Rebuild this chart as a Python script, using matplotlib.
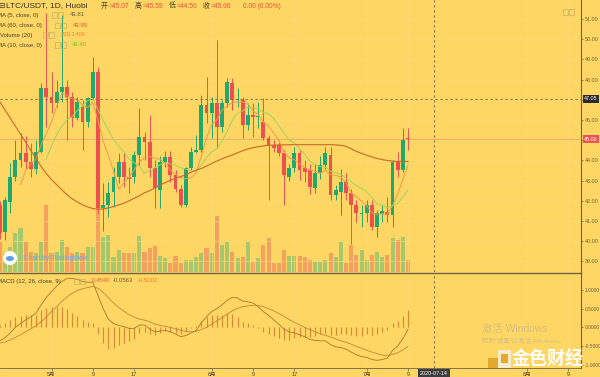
import numpy as np
import pandas as pd
import matplotlib
matplotlib.use("Agg")
import matplotlib.pyplot as plt
import matplotlib.transforms as mtransforms
from matplotlib.patches import Rectangle, Ellipse

plt.rcParams['font.family'] = ['Liberation Sans', 'Noto Sans CJK SC', 'DejaVu Sans']

# day index: 0 = 2020-05-01
days = list(range(-10, 70))

opens = [41.8, 40.45, 41.96, 43.19, 44.0, 44.38, 43.94, 43.6, 44.43, 47.57,
         47.15, 46.83, 47.4, 47.62, 47.15, 46.08, 46.66, 45.92, 47.07, 48.39,
         41.64, 41.79, 42.44, 43.18, 43.92, 43.18, 43.18, 44.27, 45.17, 44.93,
         43.61, 42.53, 43.94, 44.18, 43.27, 42.61, 41.79, 43.61, 44.43, 44.51,
         46.74, 46.33, 46.83, 45.67, 46.83, 47.82, 46.99, 46.99, 45.75, 46.25,
         46.17, 45.92, 45.09, 44.76, 44.76, 44.35, 43.19, 43.61, 44.35, 43.61,
         43.52, 42.62, 43.36, 43.77, 44.27, 42.29, 42.45, 42.95, 42.37, 41.79,
         41.36, 41.38, 41.79, 40.72, 41.35, 41.46, 41.3, 43.94, 43.52, 45.07]
highs = [42.0, 42.2, 43.86, 45.0, 45.34, 45.2, 44.85, 45.0, 47.82, 51.28,
         48.39, 47.98, 51.2, 47.98, 47.4, 47.15, 46.99, 47.15, 49.13, 48.6,
         42.9, 42.95, 43.69, 44.35, 44.37, 43.67, 44.45, 46.58, 45.42, 46.25,
         44.02, 44.2, 44.45, 44.45, 43.52, 42.78, 43.7, 44.68, 45.25, 47.24,
         48.14, 47.15, 49.96, 46.98, 48.07, 48.07, 47.57, 47.15, 46.83, 46.83,
         46.9, 47.07, 45.26, 45.0, 45.0, 44.51, 43.8, 44.68, 44.51, 44.0,
         43.8, 43.8, 44.2, 44.68, 44.68, 42.78, 43.6, 43.36, 42.6, 42.04,
         41.79, 42.04, 42.04, 41.55, 41.8, 42.2, 44.02, 44.43, 45.59, 45.59]
lows = [40.1, 40.05, 41.38, 43.0, 43.7, 43.6, 43.2, 43.35, 44.35, 45.67,
        46.33, 46.66, 46.9, 45.0, 45.67, 46.0, 44.5, 45.67, 46.98, 41.38,
        40.5, 41.2, 41.7, 42.9, 42.68, 42.39, 42.9, 43.77, 44.0, 43.2,
        41.63, 41.63, 43.69, 42.95, 42.45, 41.71, 41.71, 43.52, 44.35, 44.43,
        45.84, 45.09, 44.6, 45.4, 46.66, 46.5, 46.66, 45.09, 45.5, 45.17,
        45.6, 45.0, 42.04, 44.4, 44.2, 41.79, 43.0, 43.44, 43.02, 42.95,
        42.36, 42.4, 43.1, 43.6, 42.04, 42.04, 41.3, 42.04, 39.85, 40.97,
        40.73, 40.97, 40.55, 40.23, 40.97, 40.97, 40.73, 43.19, 43.44, 44.5]
closes = [40.4, 42.04, 43.19, 44.02, 44.38, 43.94, 43.6, 44.43, 47.57, 47.15,
          46.83, 47.4, 47.62, 47.15, 46.08, 46.9, 45.92, 47.07, 48.39, 41.63,
          41.79, 42.39, 43.18, 43.92, 43.18, 43.1, 44.27, 45.17, 44.92, 43.61,
          42.62, 43.94, 44.18, 43.27, 42.61, 41.79, 43.61, 44.43, 44.51, 46.74,
          46.33, 46.83, 45.67, 46.83, 47.9, 46.99, 47.05, 45.75, 46.25, 46.17,
          46.2, 45.09, 44.76, 44.6, 44.35, 43.28, 43.61, 44.35, 43.52, 43.44,
          42.7, 43.36, 43.77, 44.35, 42.29, 42.53, 42.95, 42.37, 41.79, 41.38,
          41.42, 41.79, 40.72, 41.38, 41.51, 41.3, 43.94, 43.52, 45.0, 45.06]

# volume in K
volume = [570, 361, 475, 741, 836, 570, 380, 361, 570, 1273,
          361, 380, 608, 475, 361, 380, 361, 475, 475, 1368,
          665, 703, 285, 418, 361, 361, 361, 684, 380, 456,
          494, 304, 266, 171, 304, 171, 228, 228, 285, 361,
          456, 361, 1064, 513, 570, 380, 266, 285, 570, 190,
          266, 513, 646, 171, 171, 418, 304, 304, 304, 285,
          228, 190, 190, 228, 361, 285, 570, 171, 513, 323,
          418, 228, 323, 380, 285, 323, 646, 608, 665, 229]

ma60 = [46.9, 46.5, 46.1, 45.7, 45.3, 44.9, 44.5, 44.1, 43.7, 43.35,
        43.05, 42.8, 42.55, 42.3, 42.1, 41.95, 41.8, 41.7, 41.62, 41.58,
        41.6, 41.65, 41.72, 41.8, 41.88, 42.0, 42.13, 42.25, 42.4, 42.5,
        42.65, 42.78, 42.9, 43.02, 43.12, 43.2, 43.3, 43.42, 43.52, 43.6,
        43.72, 43.85, 43.97, 44.08, 44.18, 44.27, 44.38, 44.48, 44.57, 44.63,
        44.68, 44.72, 44.75, 44.76, 44.77, 44.77, 44.78, 44.78, 44.78, 44.78,
        44.78, 44.78, 44.78, 44.78, 44.78, 44.77, 44.75, 44.7, 44.58, 44.45,
        44.35, 44.26, 44.18, 44.1, 44.04, 44.0, 43.97, 43.95, 43.95, 43.95]

macd = [-0.36, -0.28, -0.15, 0.0, 0.1, 0.2, 0.28, 0.38, 0.6, 0.8,
        0.95, 1.1, 1.22, 1.3, 1.3, 1.28, 1.22, 1.2, 1.2, 0.85,
        0.5, 0.22, 0.1, 0.05, 0.02, -0.03, -0.03, 0.06, 0.06, -0.04,
        -0.12, -0.1, -0.08, -0.12, -0.18, -0.25, -0.22, -0.15, -0.08, 0.12,
        0.28, 0.42, 0.5, 0.6, 0.72, 0.8, 0.78, 0.7, 0.68, 0.65,
        0.55, 0.42, 0.32, 0.2, 0.08, -0.05, -0.12, -0.15, -0.2, -0.25,
        -0.32, -0.35, -0.36, -0.36, -0.46, -0.52, -0.54, -0.58, -0.66, -0.73,
        -0.78, -0.8, -0.86, -0.88, -0.86, -0.82, -0.62, -0.5, -0.3, -0.056]
signal = [-0.42, -0.39, -0.34, -0.27, -0.2, -0.12, -0.04, 0.04, 0.15, 0.28,
          0.42, 0.55, 0.69, 0.81, 0.91, 0.98, 1.03, 1.06, 1.09, 1.04,
          0.93, 0.79, 0.65, 0.53, 0.43, 0.34, 0.27, 0.22, 0.19, 0.15,
          0.09, 0.05, 0.03, 0.0, -0.04, -0.08, -0.11, -0.12, -0.11, -0.06,
          0.0, 0.09, 0.17, 0.26, 0.35, 0.44, 0.51, 0.55, 0.57, 0.59,
          0.58, 0.55, 0.5, 0.44, 0.37, 0.29, 0.21, 0.13, 0.07, 0.0,
          -0.06, -0.12, -0.17, -0.21, -0.26, -0.31, -0.36, -0.4, -0.45, -0.51,
          -0.56, -0.61, -0.66, -0.7, -0.74, -0.75, -0.73, -0.68, -0.6, -0.51]
hist = [0.06, 0.11, 0.19, 0.27, 0.3, 0.32, 0.32, 0.34, 0.45, 0.52,
        0.53, 0.55, 0.53, 0.49, 0.39, 0.3, 0.19, 0.14, 0.11, -0.19,
        -0.43, -0.57, -0.55, -0.48, -0.41, -0.37, -0.3, -0.16, -0.13, -0.19,
        -0.21, -0.15, -0.11, -0.12, -0.14, -0.17, -0.11, -0.03, 0.03, 0.18,
        0.28, 0.33, 0.33, 0.34, 0.37, 0.36, 0.27, 0.15, 0.11, 0.06,
        -0.03, -0.13, -0.18, -0.24, -0.29, -0.34, -0.33, -0.28, -0.27, -0.25,
        -0.26, -0.23, -0.19, -0.15, -0.2, -0.21, -0.18, -0.18, -0.21, -0.22,
        -0.22, -0.19, -0.2, -0.18, -0.12, -0.07, 0.11, 0.18, 0.3, 0.454]

price_ticks = list(range(39, 52))
hidden_price_labels = [45, 47]   # covered by the price tags
macd_ticks = [-1.0, -0.5, 0.0, 0.5, 1.0]
date_ticks = [0, 8, 16, 31, 39, 47, 61, 69, 92, 100]
date_labels = ['5月', '9', '17', '6月', '9', '17', '7月', '9', '8月', '9']

BG = '#FDD663'
UP = '#1FA86F'
DOWN = '#EE5050'
UP_VOL = '#A7C76C'
DOWN_VOL = '#F4A05E'
AXIS_TXT = '#6F6040'
LINE_DARK = '#6E6242'

W, H = 600, 377


def fx(px):
    return px / W


def fy(py):
    return 1 - py / H


fig = plt.figure(figsize=(6, 3.77), dpi=100, facecolor=BG)

main_rect = [0, fy(272), 581 / W, 272 / H]
macd_rect = [0, fy(368), 581 / W, 95 / H]

# volume sits behind the candles
ax_vol = fig.add_axes(main_rect)
ax = fig.add_axes(main_rect)
ax_macd = fig.add_axes(macd_rect)

XMIN, XMAX = -9.97, 102.48

d = np.array(days)
o, h, l, c = map(np.array, (opens, highs, lows, closes))
up = c >= o
cols = np.where(up, UP, DOWN)

# ---- volume ----
ax_vol.set_facecolor(BG)
ax_vol.bar(d, volume, width=0.78, color=np.where(up, UP_VOL, DOWN_VOL), linewidth=0)
ax_vol.set_xlim(XMIN, XMAX)
ax_vol.set_ylim(0, 272 * 19)
ax_vol.set_xticks([])
ax_vol.set_yticks([])
for s in ax_vol.spines.values():
    s.set_visible(False)

# ---- candles ----
ax.patch.set_alpha(0)
for x in date_ticks:
    ax.axvline(x, color='#FBDD7C', lw=0.4, zorder=0)
for y in price_ticks:
    ax.axhline(y, color='#FBDD7C', lw=0.4, zorder=0)

ax.vlines(d, l, h, color=cols, lw=0.7, zorder=2)
ax.bar(d, np.maximum(np.abs(c - o), 0.03), bottom=np.minimum(o, c), width=0.72,
       color=cols, linewidth=0, zorder=3)

# moving averages
close_s = pd.Series(closes)
ax.plot(d, close_s.rolling(5).mean(), color='#EE9A4C', lw=0.7, zorder=4)
ax.plot(d, close_s.rolling(10).mean(), color='#9ED55A', lw=0.7, zorder=4)
ax.plot(d, ma60, color='#C9692E', lw=0.8, zorder=4)

# last price line and crosshair
ax.axhline(45.06, color='#F29A6A', lw=0.5, zorder=1)
ax.axhline(47.05, color='#857343', lw=0.8, ls=(0, (2, 2.5)), zorder=5)
ax.axvline(74, color='#857343', lw=0.8, ls=(0, (2, 2.5)), zorder=5)

ax.set_xlim(XMIN, XMAX)
ax.set_ylim(38.48, 51.94)
ax.set_xticks([])
ax.yaxis.tick_right()
ax.set_yticks(price_ticks)
ax.set_yticklabels(['' if v in hidden_price_labels else f'{v:.2f}' for v in price_ticks])
ax.tick_params(axis='y', length=1.5, width=0.5, color=AXIS_TXT, labelsize=3.9,
               labelcolor=AXIS_TXT, pad=1.0)
for name, s in ax.spines.items():
    s.set_visible(name == 'right')
ax.spines['right'].set_color(LINE_DARK)
ax.spines['right'].set_linewidth(0.8)

tr = mtransforms.blended_transform_factory(ax.transAxes, ax.transData)
ax.text(1 + 10 / 581, 47.05, '47.05', transform=tr, ha='center', va='center',
        fontsize=3.9, color='white', clip_on=False,
        bbox=dict(boxstyle='square,pad=0.3', fc='#2B2B2B', ec='none'))
ax.text(1 + 10 / 581, 45.06, '45.06', transform=tr, ha='center', va='center',
        fontsize=3.9, color='white', clip_on=False,
        bbox=dict(boxstyle='square,pad=0.3', fc='#EF5350', ec='none'))

# ---- MACD ----
ax_macd.set_facecolor(BG)
for x in date_ticks:
    ax_macd.axvline(x, color='#FBDD7C', lw=0.4, zorder=0)
ax_macd.vlines(d, 0, hist, color='#D98838', lw=0.8)
ax_macd.plot(d, macd, color='#A8752E', lw=0.6)
ax_macd.plot(d, signal, color='#C7843A', lw=0.6)
ax_macd.axvline(74, color='#857343', lw=0.8, ls=(0, (2, 2.5)))
ax_macd.set_xlim(XMIN, XMAX)
ax_macd.set_ylim(-1.085, 1.448)
ax_macd.yaxis.tick_right()
ax_macd.set_yticks(macd_ticks)
ax_macd.set_yticklabels([f'{v:.4f}' for v in macd_ticks])
ax_macd.set_xticks(date_ticks)
ax_macd.set_xticklabels(date_labels)
ax_macd.tick_params(axis='y', length=1.5, width=0.5, color=AXIS_TXT, labelsize=3.5,
                    labelcolor=AXIS_TXT, pad=1.0)
ax_macd.tick_params(axis='x', length=2, width=0.5, color=AXIS_TXT, labelsize=4.0,
                    labelcolor='#4A4030', pad=1.2)
for name, s in ax_macd.spines.items():
    s.set_visible(name != 'left')
    s.set_color(LINE_DARK)
ax_macd.spines['top'].set_linewidth(1.0)
ax_macd.spines['bottom'].set_linewidth(0.6)
ax_macd.spines['right'].set_linewidth(0.8)

trm = mtransforms.blended_transform_factory(ax_macd.transData, ax_macd.transAxes)
ax_macd.text(74, -0.055, '2020-07-14', transform=trm, ha='center', va='center',
             fontsize=3.9, color='white', clip_on=False, zorder=10,
             bbox=dict(boxstyle='square,pad=0.35', fc='#3C3C3C', ec='none'))

# ---- header text ----
fig.text(fx(-2), fy(6), '⊟', fontsize=5.5, color='#4A4030', va='center',
         family='DejaVu Sans')
fig.text(fx(6), fy(6), 'LTC/USDT, 1D, Huobi', fontsize=6.0, color='#3A3325', va='center')
RED_TXT = '#E5533A'
for lab, val, x in [('开', '=45.07', 101), ('高', '=45.59', 135),
                    ('低', '=44.50', 169), ('收', '=45.06', 203)]:
    fig.text(fx(x), fy(6), lab, fontsize=5.0, color='#4A4030', va='center')
    fig.text(fx(x + 7.5), fy(6), val, fontsize=4.8, color=RED_TXT, va='center')
fig.text(fx(243), fy(6), '0.00 (0.00%)', fontsize=4.8, color=RED_TXT, va='center')


def icons(x, y):
    for k in range(2):
        fig.add_artist(Rectangle((fx(x + k * 6), fy(y + 2.5)), 5 / W, 5 / H,
                                 fill=False, ec='#BFA76A', lw=0.4))


legend_rows = [('MA (5, close, 0)', 52, '43.81', 70, '#6B5A3A', 15),
               ('MA (60, close, 0)', 55, '43.95', 73, '#E0552B', 25.5),
               ('Volume (20)', 43, '229.146K', 61, '#F08A3C', 35),
               ('MA (10, close, 0)', 55, '43.40', 72, '#6FCB1E', 45)]
for name, ix, val, vx, vc, y in legend_rows:
    fig.text(fx(-3) if name.startswith('MA') else fx(0), fy(y), name,
             fontsize=4.3, color='#4A4030', va='center')
    icons(ix, y)
    fig.text(fx(vx), fy(y), val, fontsize=4.3, color=vc, va='center')

icons(563, 12)

# MACD legend
fig.text(fx(-3), fy(281), 'MACD (12, 26, close, 9)', fontsize=4.3, color='#4A4030', va='center')
icons(74, 281)
fig.text(fx(92), fy(281), '0.4540', fontsize=4.3, color='#E8603A', va='center')
fig.text(fx(113), fy(281), '-0.0563', fontsize=4.3, color='#6A5A3A', va='center')
fig.text(fx(138), fy(281), '-0.5102', fontsize=4.3, color='#EE7A3A', va='center')

# TradingView badge
fig.add_artist(Ellipse((fx(10), fy(258)), 14 / W, 14 / H, fc='white', ec='none'))
fig.add_artist(Ellipse((fx(10), fy(258.5)), 8 / W, 5 / H, fc='#5C9EE8', ec='none'))
fig.text(fx(24), fy(258), 'Chart by TradingView', fontsize=4.8, color='#6FA8EE', va='center')

# windows watermark
fig.text(fx(482), fy(329), '激活 Windows', fontsize=7.5, color='#D9BE86', va='center')
fig.text(fx(482), fy(341), '转到"设置"以激活 Windows。', fontsize=4.6, color='#D9BE86', va='center')

# jinse logo
fig.add_artist(Rectangle((fx(488), fy(368)), 10 / W, 10 / H, fc='#E3A92B', ec='none'))
fig.add_artist(Rectangle((fx(498), fy(368)), 13 / W, 18 / H, fc='#F7EBCB', ec='none'))
fig.add_artist(Rectangle((fx(501), fy(363)), 7 / W, 9 / H, fc='#E3A92B', ec='none'))
fig.text(fx(548), fy(359), '金色财经', fontsize=13, color='white', ha='center', va='center',
         family=['Noto Sans CJK SC'], fontweight='bold')

fig.savefig('out.png', dpi=100, facecolor=BG)
